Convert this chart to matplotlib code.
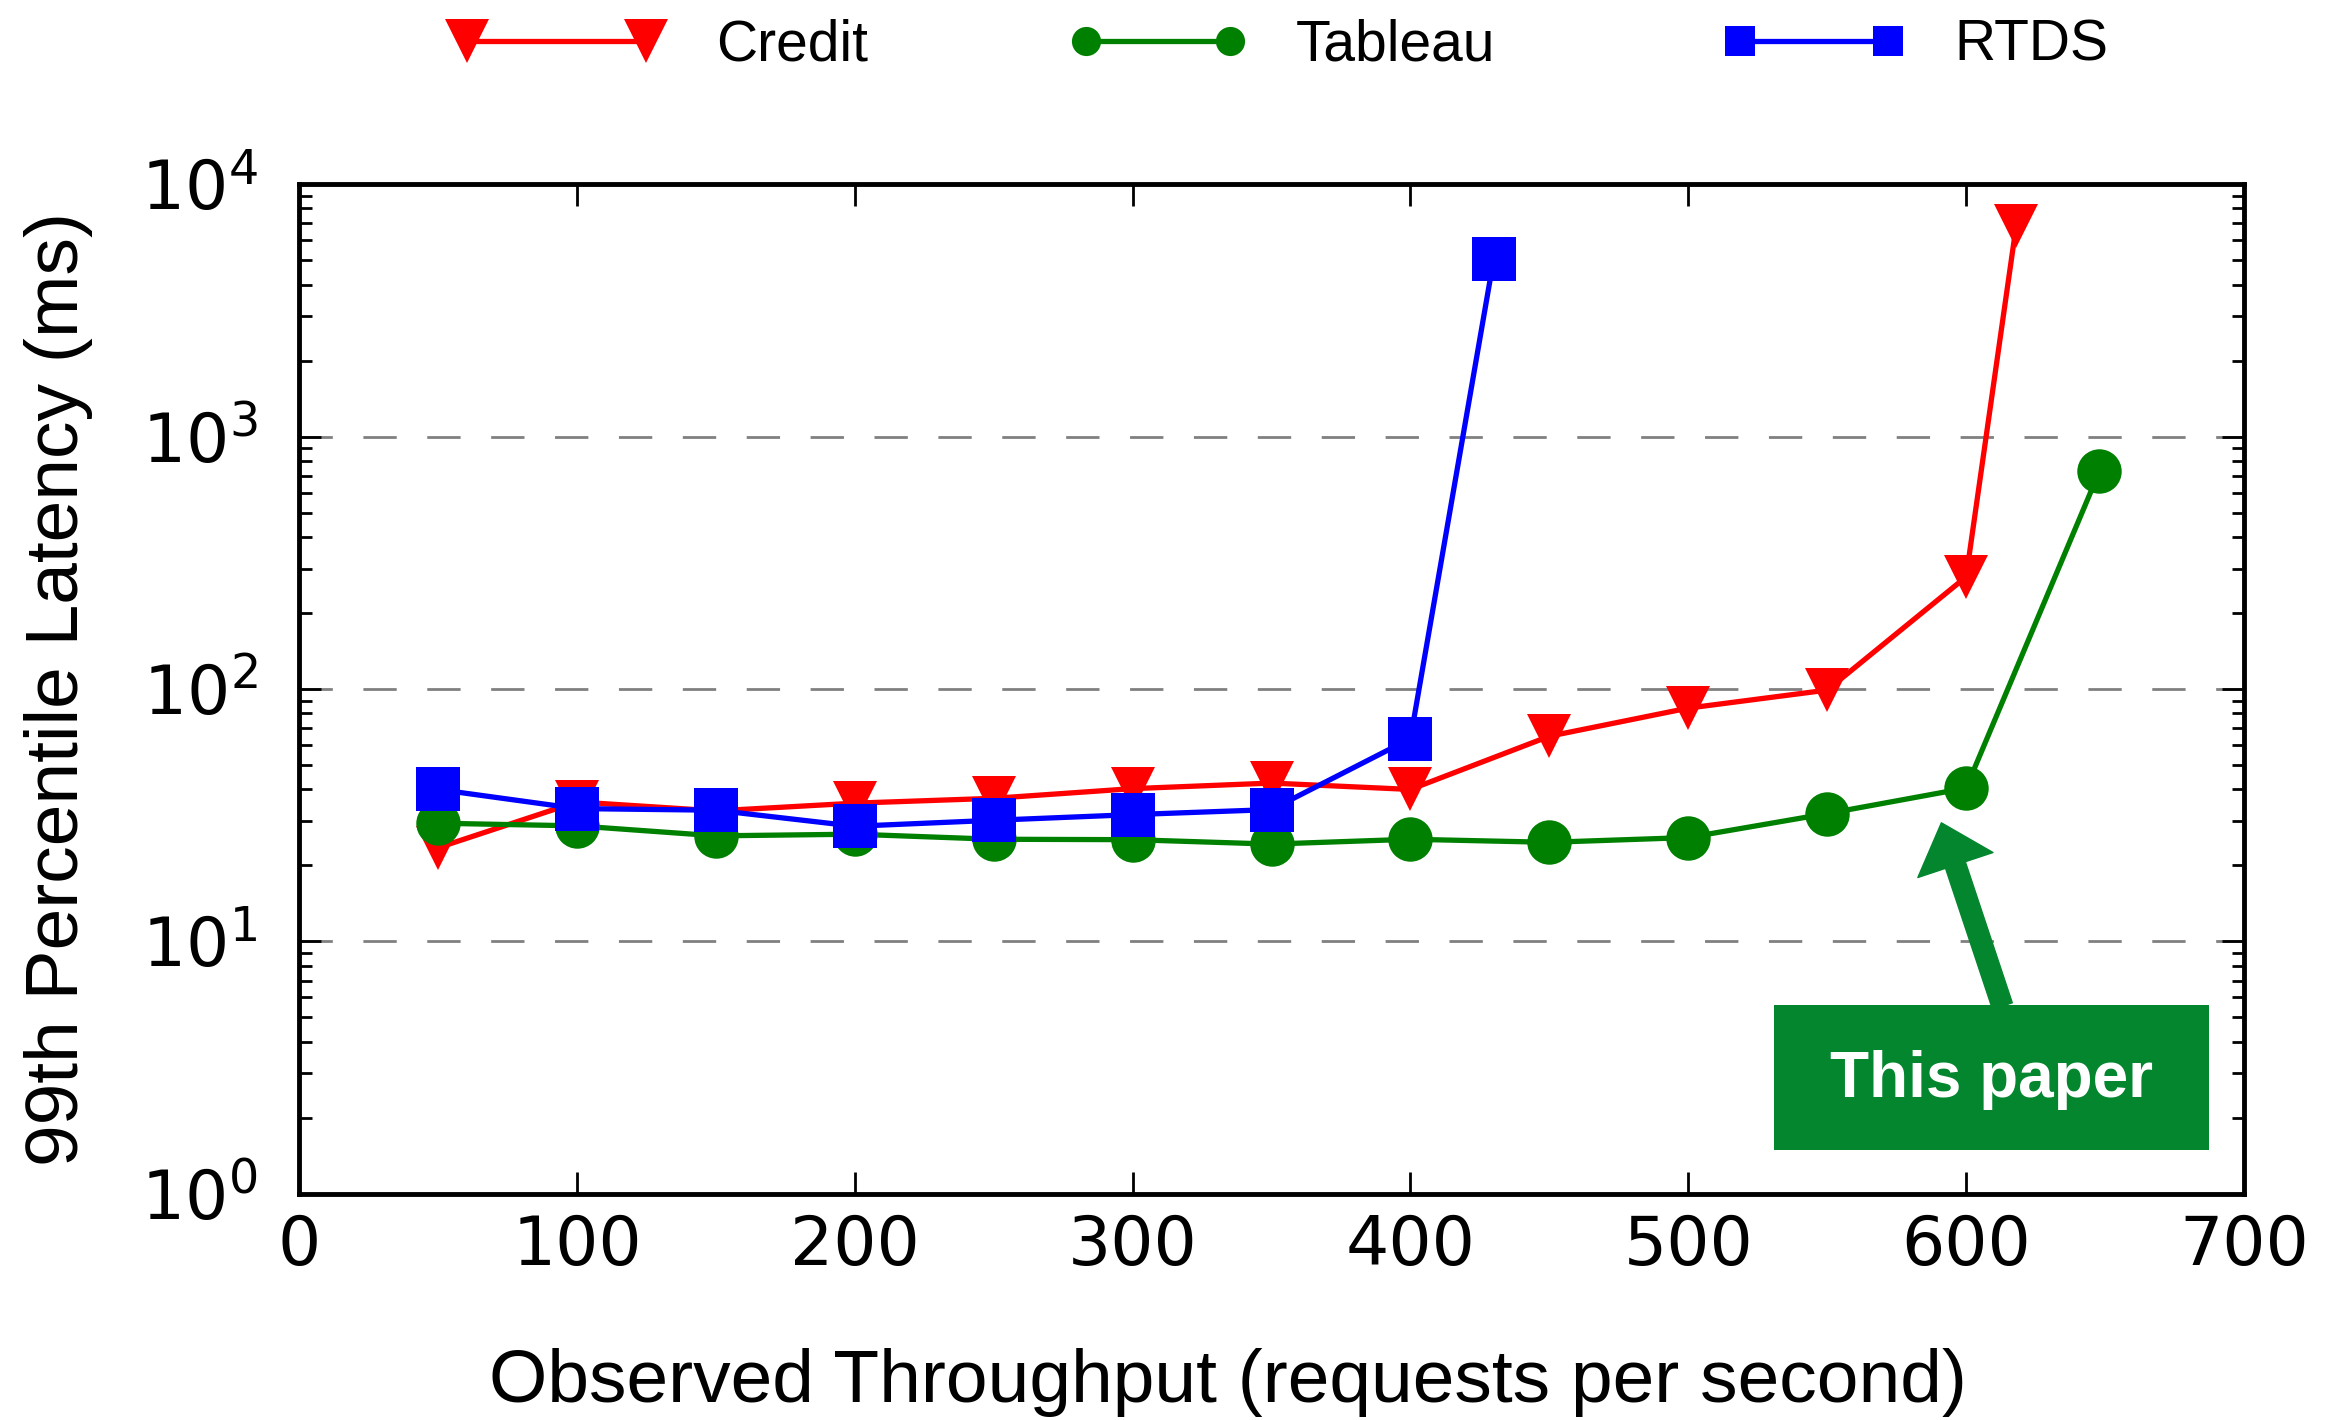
import matplotlib
matplotlib.use("Agg")
import matplotlib.pyplot as plt
from matplotlib.lines import Line2D
from matplotlib.patches import Rectangle
import numpy as np

plt.rcParams['font.family'] = ['Liberation Sans', 'DejaVu Sans']
plt.rcParams['mathtext.fontset'] = 'dejavusans'

# ---- data ----
credit_x = [50, 100, 150, 200, 250, 300, 350, 400, 450, 500, 550, 600, 618]
credit_y = [23.5, 35.7, 32.9, 35.3, 36.9, 40.3, 42.4, 40.0, 65, 84, 99, 278, 6800]

tableau_x = [50, 100, 150, 200, 250, 300, 350, 400, 450, 500, 550, 600, 648]
tableau_y = [29.4, 28.7, 26.2, 26.6, 25.4, 25.3, 24.3, 25.4, 24.7, 25.8, 32.1, 40.5, 729]

rtds_x = [50, 100, 150, 200, 250, 300, 350, 400, 430]
rtds_y = [40.0, 33.6, 33.1, 28.6, 30.2, 31.8, 33.3, 63.6, 5070]

x_ticks = [0, 100, 200, 300, 400, 500, 600, 700]
y_ticks = [1, 10, 100, 1000, 10000]
y_tick_labels = [r'$10^{0}$', r'$10^{1}$', r'$10^{2}$', r'$10^{3}$', r'$10^{4}$']

series_names = ['Credit', 'Tableau', 'RTDS']
series_colors = ['#ff0000', '#008000', '#0000ff']
series_markers = ['v', 'o', 's']

annot_text = 'This paper'
annot_target = (591.1, 29.5)

# ---- figure ----
fig = plt.figure(figsize=(23.46, 14.2), dpi=100)
ax = fig.add_axes([0.1275, 0.1592, 0.829, 0.7112])

lw = 3.8
ax.plot(credit_x, credit_y, color=series_colors[0], marker='v', markersize=32,
        linewidth=lw, markeredgewidth=0, zorder=3)
ax.plot(tableau_x, tableau_y, color=series_colors[1], marker='o', markersize=32,
        linewidth=lw, markeredgewidth=0, zorder=4)
ax.plot(rtds_x, rtds_y, color=series_colors[2], marker='s', markersize=32,
        linewidth=lw, markeredgewidth=0, zorder=5)

ax.set_yscale('log')
ax.set_xlim(0, 700)
ax.set_ylim(1, 10000)
ax.set_xticks(x_ticks)
ax.set_xticklabels([str(v) for v in x_ticks])
ax.set_yticks(y_ticks)
ax.set_yticklabels(y_tick_labels)
ax.minorticks_on()
ax.xaxis.set_minor_locator(matplotlib.ticker.NullLocator())

ax.tick_params(axis='both', which='major', direction='in', length=16, width=2,
               top=True, right=True, labelsize=49)
ax.tick_params(axis='both', which='minor', direction='in', length=9, width=2,
               top=True, right=True)
for lab in ax.get_xticklabels() + ax.get_yticklabels():
    lab.set_family('DejaVu Sans')
ax.tick_params(axis='x', which='major', pad=14)
ax.tick_params(axis='y', which='major', pad=30)

for s in ax.spines.values():
    s.set_linewidth(3.5)

ax.yaxis.grid(True, which='major', color='#808080', linestyle=(0, (12, 11)),
              linewidth=2)
ax.xaxis.grid(False)
ax.set_axisbelow(True)

ax.set_xlabel('Observed Throughput (requests per second)', fontsize=54)
ax.xaxis.set_label_coords(0.4777, -0.153)
ax.set_ylabel('99th Percentile Latency (ms)', fontsize=54, labelpad=34)

# annotation box and arrow
box_color = '#03862e'
ax.add_patch(Rectangle((0.7584, 0.0436), 0.2236, 0.1434, transform=ax.transAxes,
                       facecolor=box_color, edgecolor='none', zorder=6))
ax.text(0.8703, 0.113, annot_text, transform=ax.transAxes, ha='center', va='center',
        color='white', fontsize=46, fontweight='bold', zorder=7)
ax.annotate('', xy=annot_target, xycoords='data', xytext=(0.8758, 0.186),
            textcoords='axes fraction',
            arrowprops=dict(facecolor=box_color, edgecolor=box_color, width=15,
                            headwidth=57, headlength=32, shrink=0),
            zorder=6)

# legend (one entry per legend to match the reference spacing)
handles = [
    Line2D([], [], color=series_colors[0], marker='v', markersize=32, linewidth=lw,
           markeredgewidth=0),
    Line2D([], [], color=series_colors[1], marker='o', markersize=21, linewidth=lw,
           markeredgewidth=0),
    Line2D([], [], color=series_colors[2], marker='s', markersize=21, linewidth=lw,
           markeredgewidth=0),
]
leg_x = [0.1917, 0.4557, 0.7344]
leg_hl = [3.75, 3.12, 3.2]
leg_pad = [0.93, 0.86, 0.86]
for h, name, lx, hl, tp in zip(handles, series_names, leg_x, leg_hl, leg_pad):
    fig.legend([h], [name], loc='center left', bbox_to_anchor=(lx, 0.968),
               frameon=False, fontsize=41, numpoints=2, handlelength=hl,
               handletextpad=tp, borderpad=0, borderaxespad=0)

fig.savefig('out.png', dpi=100)
